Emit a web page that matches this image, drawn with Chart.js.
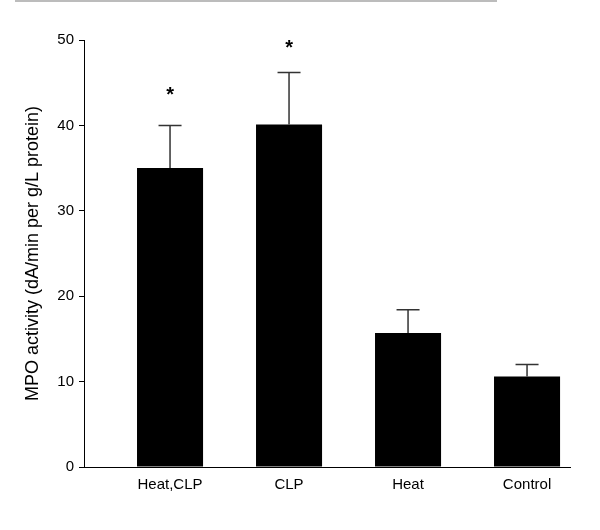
<!DOCTYPE html>
<html>
<head>
<meta charset="utf-8">
<script src="https://cdn.jsdelivr.net/npm/chart.js@4"></script>
<style>
  body { margin: 0; background: #fff; }
  #wrap { position: relative; width: 600px; height: 530px; }
  #rule { position: absolute; left: 15px; top: 0; width: 482px; height: 2px; background: #bcbcbc; }
  canvas { position: absolute; left: 0; top: 0; }
</style>
</head>
<body>
<div id="wrap">
  <div id="rule"></div>
  <canvas id="chart" width="600" height="530"></canvas>
</div>
<script>
// values
const groups = ["Heat,CLP", "CLP", "Heat", "Control"];
const mpo = [35.0, 40.1, 15.7, 10.6];
const sem = [5.0, 6.1, 2.7, 1.4];
const starAt = [44.0, 49.5, null, null]; // where the "*" marks sit
const yTicks = [0, 10, 20, 30, 40, 50];

const FONT = "'Liberation Sans', Arial, sans-serif";

// upper-only error bars + significance stars
const errorBars = {
  id: "errorBars",
  afterDatasetsDraw(chart) {
    const { ctx, scales: { x, y } } = chart;
    ctx.save();
    ctx.strokeStyle = "#333";
    ctx.lineWidth = 1.5;
    mpo.forEach((v, i) => {
      const px = x.getPixelForValue(i + 1);
      const top = y.getPixelForValue(v + sem[i]);
      ctx.beginPath();
      ctx.moveTo(px, y.getPixelForValue(v));
      ctx.lineTo(px, top);
      ctx.moveTo(px - 11.5, top);
      ctx.lineTo(px + 11.5, top);
      ctx.stroke();
    });
    ctx.fillStyle = "#000";
    ctx.font = "bold 20px " + FONT;
    ctx.textAlign = "center";
    ctx.textBaseline = "middle";
    starAt.forEach((s, i) => {
      if (s == null) return;
      ctx.fillText("*", x.getPixelForValue(i + 1), y.getPixelForValue(s) + 4);
    });
    ctx.restore();
  },
};

new Chart(document.getElementById("chart"), {
  type: "bar",
  data: {
    datasets: [{
      data: mpo.map((v, i) => ({ x: i + 1, y: v })),
      backgroundColor: "#000",
      borderWidth: 0,
      barPercentage: 0.555,
      categoryPercentage: 1,
    }],
  },
  options: {
    responsive: false,
    animation: false,
    layout: { padding: { top: 40, right: 30, bottom: 0, left: 0 } },
    plugins: { legend: { display: false }, tooltip: { enabled: false } },
    scales: {
      x: {
        type: "linear",
        offset: false,
        min: 0.277,
        max: 4.361,
        afterBuildTicks: (s) => { s.ticks = groups.map((g, i) => ({ value: i + 1 })); },
        afterFit: (s) => { s.height = 63; },
        grid: { display: false, drawTicks: false },
        border: { display: true, color: "#000", width: 1 },
        ticks: {
          autoSkip: false,
          maxRotation: 0,
          padding: 9,
          color: "#000",
          font: { family: FONT, size: 15 },
          callback: (v) => groups[v - 1],
        },
      },
      y: {
        min: 0,
        max: 50,
        afterBuildTicks: (s) => { s.ticks = yTicks.map((v) => ({ value: v })); },
        afterFit: (s) => { s.width = 84; },
        grid: { drawOnChartArea: false, drawTicks: true, tickLength: 5, color: "#000", lineWidth: 1 },
        border: { display: true, color: "#000", width: 1 },
        ticks: { padding: 5, color: "#000", font: { family: FONT, size: 15 } },
        title: {
          display: true,
          text: "MPO activity (dA/min per g/L protein)",
          color: "#000",
          font: { family: FONT, size: 18 },
          padding: { top: 22, bottom: 0 },
        },
      },
    },
  },
  plugins: [errorBars],
});
</script>
</body>
</html>
